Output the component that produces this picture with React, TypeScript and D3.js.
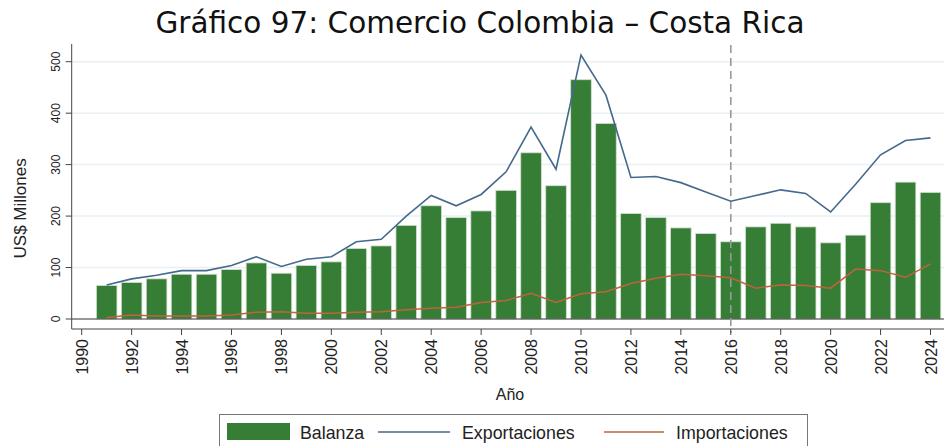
import * as d3 from "d3";
import React from "react";

const years = d3.range(1991, 2025);
const balanza = [
	65, 71, 78, 87, 87, 96, 109, 89, 104, 111, 137, 142, 182, 220, 197, 210, 250,
	323, 259, 465, 380, 205, 197, 177, 166, 150, 179, 186, 179, 148, 163, 226,
	266, 246,
];
const exportaciones = [
	66, 78, 85, 94, 94, 104, 121, 102, 116, 121, 150, 155, 200, 240, 220, 242,
	286, 373, 291, 513, 435, 275, 277, 265, 247, 229, 240, 251, 244, 208, 262,
	319, 347, 352,
];
const importaciones = [
	3, 8, 6, 6, 6, 8, 13, 14, 11, 11, 13, 14, 18, 21, 23, 32, 36, 50, 32, 49, 53,
	69, 79, 87, 84, 80, 60, 66, 65, 60, 97, 94, 81, 107,
];
const xTicks = d3.range(1990, 2025, 2);
const yTicks = [0, 100, 200, 300, 400, 500];

const W = 944;
const H = 446;
const GREEN = "#367e36";
const BLUE = "#44698c";
const ORANGE = "#c0623c";

export default function App() {
	const svgRef = React.useRef<SVGSVGElement>(null);

	React.useEffect(() => {
		if (!svgRef.current) return;
		const svg = d3.select(svgRef.current);
		svg.selectAll("*").remove();

		const x = d3.scaleLinear().domain([1990, 2024]).range([81.7, 930.5]);
		const y = d3.scaleLinear().domain([0, 500]).range([319, 61.7]);
		const axisY = 329;
		const axisX = 71.7;
		const bw = 20.6;

		// title
		svg
			.append("text")
			.attr("x", 480)
			.attr("y", 33)
			.attr("text-anchor", "middle")
			.attr("font-family", "DejaVu Sans, Verdana, sans-serif")
			.attr("font-size", 29.5)
			.attr("fill", "#111")
			.text("Gráfico 97: Comercio Colombia – Costa Rica");

		// grid
		svg
			.append("g")
			.selectAll("line")
			.data(yTicks.filter((t) => t > 0))
			.join("line")
			.attr("x1", axisX)
			.attr("x2", W)
			.attr("y1", (d) => y(d))
			.attr("y2", (d) => y(d))
			.attr("stroke", "#e8f0f1")
			.attr("stroke-width", 1.5);

		// bars
		svg
			.append("g")
			.selectAll("rect")
			.data(balanza)
			.join("rect")
			.attr("x", (_, i) => x(years[i]) - bw / 2)
			.attr("y", (d) => y(d))
			.attr("width", bw)
			.attr("height", (d) => y(0) - y(d))
			.attr("fill", GREEN)
			.attr("stroke", "#d4e0d4")
			.attr("stroke-width", 0.8);

		// zero baseline
		svg
			.append("line")
			.attr("x1", axisX)
			.attr("x2", W)
			.attr("y1", y(0))
			.attr("y2", y(0))
			.attr("stroke", "#333")
			.attr("stroke-width", 1.2);

		// dashed reference line at 2016
		svg
			.append("line")
			.attr("x1", x(2016))
			.attr("x2", x(2016))
			.attr("y1", 45)
			.attr("y2", axisY + 4)
			.attr("stroke", "#999")
			.attr("stroke-width", 1.6)
			.attr("stroke-dasharray", "8,5");

		const line = d3
			.line<number>()
			.x((_, i) => x(years[i]))
			.y((d) => y(d));

		svg
			.append("path")
			.attr("d", line(importaciones))
			.attr("fill", "none")
			.attr("stroke", ORANGE)
			.attr("stroke-width", 1.5);

		svg
			.append("path")
			.attr("d", line(exportaciones))
			.attr("fill", "none")
			.attr("stroke", BLUE)
			.attr("stroke-width", 1.6);

		// axes
		svg
			.append("line")
			.attr("x1", axisX)
			.attr("x2", W)
			.attr("y1", axisY)
			.attr("y2", axisY)
			.attr("stroke", "#444")
			.attr("stroke-width", 1);
		svg
			.append("line")
			.attr("x1", axisX)
			.attr("x2", axisX)
			.attr("y1", 44)
			.attr("y2", axisY)
			.attr("stroke", "#444")
			.attr("stroke-width", 1);

		const yt = svg.append("g").selectAll("g").data(yTicks).join("g");
		yt.append("line")
			.attr("x1", axisX - 6)
			.attr("x2", axisX)
			.attr("y1", (d) => y(d))
			.attr("y2", (d) => y(d))
			.attr("stroke", "#444");
		yt.append("text")
			.attr(
				"transform",
				(d) => `translate(${axisX - 12},${y(d)}) rotate(-90)`,
			)
			.attr("text-anchor", "middle")
			.attr("font-family", "Liberation Sans, Arial, sans-serif")
			.attr("font-size", 12)
			.attr("fill", "#222")
			.text((d) => d);

		const xt = svg.append("g").selectAll("g").data(xTicks).join("g");
		xt.append("line")
			.attr("x1", (d) => x(d))
			.attr("x2", (d) => x(d))
			.attr("y1", axisY)
			.attr("y2", axisY + 6)
			.attr("stroke", "#444");
		xt.append("text")
			.attr("transform", (d) => `translate(${x(d) + 6},${axisY + 10}) rotate(-90)`)
			.attr("text-anchor", "end")
			.attr("font-family", "Liberation Sans, Arial, sans-serif")
			.attr("font-size", 16)
			.attr("fill", "#222")
			.text((d) => d);

		// axis titles
		svg
			.append("text")
			.attr("transform", `translate(26,${(y(0) + y(500)) / 2 + 18}) rotate(-90)`)
			.attr("text-anchor", "middle")
			.attr("font-family", "Liberation Sans, Arial, sans-serif")
			.attr("font-size", 17)
			.attr("fill", "#222")
			.text("US$ Millones");
		svg
			.append("text")
			.attr("x", 510)
			.attr("y", 400)
			.attr("text-anchor", "middle")
			.attr("font-family", "Liberation Sans, Arial, sans-serif")
			.attr("font-size", 16)
			.attr("fill", "#222")
			.text("Año");

		// legend
		const lg = svg.append("g");
		lg.append("rect")
			.attr("x", 219.5)
			.attr("y", 414.5)
			.attr("width", 588)
			.attr("height", 40)
			.attr("fill", "white")
			.attr("stroke", "#777")
			.attr("stroke-width", 1);
		lg.append("rect")
			.attr("x", 227)
			.attr("y", 423)
			.attr("width", 63)
			.attr("height", 17)
			.attr("fill", GREEN);
		const items = [
			{ label: "Balanza", tx: 300 },
			{ label: "Exportaciones", tx: 462, color: BLUE, x1: 378, x2: 450 },
			{ label: "Importaciones", tx: 676, color: ORANGE, x1: 604, x2: 664 },
		];
		items.forEach((it) => {
			if (it.color) {
				lg.append("line")
					.attr("x1", it.x1!)
					.attr("x2", it.x2!)
					.attr("y1", 432)
					.attr("y2", 432)
					.attr("stroke", it.color)
					.attr("stroke-width", 1.6);
			}
			lg.append("text")
				.attr("x", it.tx)
				.attr("y", 438.5)
				.attr("font-family", "Liberation Sans, Arial, sans-serif")
				.attr("font-size", 17.8)
				.attr("fill", "#222")
				.text(it.label);
		});
	}, []);

	return (
		<svg
			ref={svgRef}
			width={W}
			height={H}
			style={{ position: "absolute", left: 0, top: 0, background: "white" }}
		/>
	);
}
